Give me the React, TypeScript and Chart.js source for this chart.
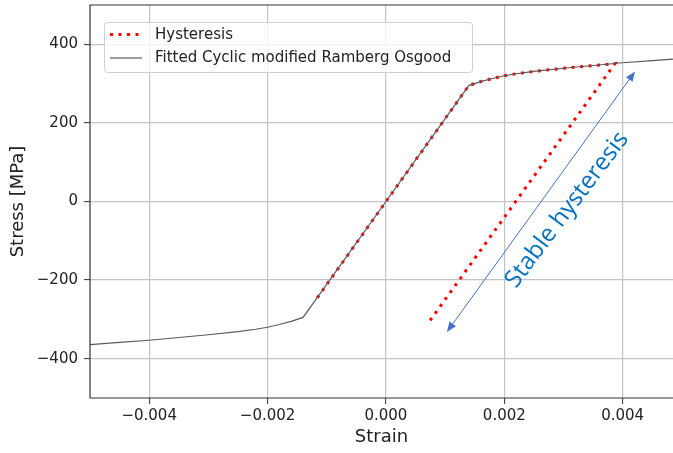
import React, { useEffect, useRef } from "react";
import { Chart, registerables } from "chart.js";

Chart.register(...registerables);

// ---- data ----
const fittedStrain = [
  -0.005, -0.0045, -0.004, -0.0035, -0.003, -0.0025, -0.0022, -0.002, -0.0018, -0.0016, -0.0015, -0.0014,
  0, 0.0014, 0.0015, 0.0016, 0.0018, 0.002, 0.0022, 0.0025, 0.003, 0.0035, 0.004, 0.0045, 0.005,
];
const fittedStress = [
  -364, -358.5, -353, -346, -339, -331, -325, -320, -313, -305, -300, -295,
  0, 295, 300, 305, 313, 320, 325, 331, 339, 346, 353, 358.5, 364,
];

const hysteresisStrain = [-0.00116, 0.0014, 0.0015, 0.0016, 0.0018, 0.002, 0.0022, 0.0025, 0.003, 0.0035, 0.00387, 0.00074];
const hysteresisStress = [-245, 295, 300, 305, 313, 320, 325, 331, 339, 346, 351, -304];

const xTicks = [-0.004, -0.002, 0, 0.002, 0.004];
const xTickLabels = ["\u22120.004", "\u22120.002", "0.000", "0.002", "0.004"];
const yTicks = [-400, -200, 0, 200, 400];
const yTickLabels = ["\u2212400", "\u2212200", "0", "200", "400"];

const legendLabels = ["Hysteresis", "Fitted Cyclic modified Ramberg Osgood"];
const xTitle = "Strain";
const yTitle = "Stress [MPa]";

const annotationText = "Stable hysteresis";
const arrowStart = [0.00103, -332];
const arrowEnd = [0.00421, 331];
const annotationPos = [0.00306, -21];

const FONT = "'DejaVu Sans', sans-serif";
const RED = "#ff0000";
const GRAY = "#5a5a5a";

const overlayPlugin = {
  id: "overlay",
  afterDraw(chart: any) {
    const { ctx, chartArea: ca, scales } = chart;
    const xs = scales.x;
    const ys = scales.y;
    ctx.save();

    // spines
    ctx.strokeStyle = "#333";
    ctx.lineWidth = 1.2;
    ctx.beginPath();
    ctx.moveTo(ca.left, ca.bottom);
    ctx.lineTo(ca.left, ca.top);
    ctx.lineTo(ca.right + 2, ca.top);
    ctx.moveTo(ca.left, ca.bottom);
    ctx.lineTo(ca.right + 2, ca.bottom);
    ctx.stroke();

    // arrow
    const x1 = xs.getPixelForValue(arrowStart[0]);
    const y1 = ys.getPixelForValue(arrowStart[1]);
    const x2 = xs.getPixelForValue(arrowEnd[0]);
    const y2 = ys.getPixelForValue(arrowEnd[1]);
    const ang = Math.atan2(y2 - y1, x2 - x1);
    const hl = 10, hw = 4;
    ctx.strokeStyle = "#4472C4";
    ctx.fillStyle = "#4472C4";
    ctx.lineWidth = 1;
    ctx.beginPath();
    ctx.moveTo(x1 + Math.cos(ang) * hl * 0.8, y1 + Math.sin(ang) * hl * 0.8);
    ctx.lineTo(x2 - Math.cos(ang) * hl * 0.8, y2 - Math.sin(ang) * hl * 0.8);
    ctx.stroke();
    const head = (px: number, py: number, a: number) => {
      ctx.beginPath();
      ctx.moveTo(px, py);
      ctx.lineTo(px - Math.cos(a) * hl - Math.sin(a) * hw, py - Math.sin(a) * hl + Math.cos(a) * hw);
      ctx.lineTo(px - Math.cos(a) * hl + Math.sin(a) * hw, py - Math.sin(a) * hl - Math.cos(a) * hw);
      ctx.closePath();
      ctx.fill();
    };
    head(x2, y2, ang);
    head(x1, y1, ang + Math.PI);

    // annotation text
    const tx = xs.getPixelForValue(annotationPos[0]);
    const ty = ys.getPixelForValue(annotationPos[1]);
    ctx.save();
    ctx.translate(tx, ty);
    ctx.rotate((-53 * Math.PI) / 180);
    ctx.fillStyle = "#0070C0";
    ctx.font = "24px 'Open Sans', sans-serif";
    ctx.textAlign = "center";
    ctx.textBaseline = "middle";
    ctx.fillText(annotationText, 0, 0);
    ctx.restore();

    // legend
    const lx = 104, ly = 22, lw = 368, lh = 50;
    ctx.beginPath();
    ctx.roundRect(lx + 0.5, ly + 0.5, lw, lh, 3);
    ctx.fillStyle = "rgba(255,255,255,0.8)";
    ctx.fill();
    ctx.strokeStyle = "#d0d0d0";
    ctx.lineWidth = 1;
    ctx.stroke();

    ctx.strokeStyle = RED;
    ctx.lineWidth = 3;
    ctx.setLineDash([3, 5.5]);
    ctx.beginPath();
    ctx.moveTo(110, 34.5);
    ctx.lineTo(142, 34.5);
    ctx.stroke();
    ctx.setLineDash([]);
    ctx.strokeStyle = GRAY;
    ctx.lineWidth = 1.2;
    ctx.beginPath();
    ctx.moveTo(110, 58);
    ctx.lineTo(142, 58);
    ctx.stroke();

    ctx.fillStyle = "#222";
    ctx.font = `15px ${FONT}`;
    ctx.textAlign = "left";
    ctx.textBaseline = "middle";
    ctx.fillText(legendLabels[0], 155, 35);
    ctx.fillText(legendLabels[1], 155, 58.5);

    ctx.restore();
  },
};

export default function App() {
  const ref = useRef<HTMLCanvasElement | null>(null);
  useEffect(() => {
    if (!ref.current) return;
    const fitted = fittedStrain.map((x, i) => ({ x, y: fittedStress[i] }));
    const hyst = hysteresisStrain.map((x, i) => ({ x, y: hysteresisStress[i] }));
    const chart = new Chart(ref.current, {
      type: "line",
      data: {
        datasets: [
          {
            label: legendLabels[1],
            data: fitted,
            borderColor: GRAY,
            borderWidth: 1.2,
            pointRadius: 0,
            tension: 0,
            order: 0,
          },
          {
            label: legendLabels[0],
            data: hyst,
            borderColor: RED,
            borderWidth: 3,
            borderDash: [3, 5.5],
            borderCapStyle: "butt",
            pointRadius: 0,
            tension: 0,
            order: 1,
          },
        ],
      },
      plugins: [overlayPlugin],
      options: {
        animation: false,
        responsive: true,
        maintainAspectRatio: false,
        layout: { padding: { top: 5, left: 0, right: 0, bottom: 0 } },
        plugins: { legend: { display: false }, tooltip: { enabled: false } },
        scales: {
          x: {
            type: "linear",
            min: -0.005,
            max: 0.00485,
            afterBuildTicks: (s: any) => {
              s.ticks = xTicks.map((v) => ({ value: v }));
            },
            afterFit: (s: any) => {
              s.height = 55;
              s.paddingLeft = 0;
              s.paddingRight = 0;
            },
            ticks: {
              autoSkip: false,
              maxRotation: 0,
              padding: 3,
              color: "#222",
              font: { family: FONT, size: 15 },
              callback: (v: any) => {
                const i = xTicks.indexOf(v);
                return i >= 0 ? xTickLabels[i] : "";
              },
            },
            grid: { color: "#c4c4c4", lineWidth: 1.2, tickLength: 6, tickColor: "#333", tickWidth: 1 },
            border: { display: false },
            title: {
              display: true,
              text: xTitle,
              color: "#222",
              font: { family: FONT, size: 18 },
              padding: { top: 0, bottom: 5 },
            },
          },
          y: {
            type: "linear",
            min: -500,
            max: 500,
            afterBuildTicks: (s: any) => {
              s.ticks = yTicks.map((v) => ({ value: v }));
            },
            afterFit: (s: any) => {
              s.width = 90;
              s.paddingTop = 0;
              s.paddingBottom = 0;
            },
            ticks: {
              autoSkip: false,
              padding: 6,
              color: "#222",
              font: { family: FONT, size: 15 },
              callback: (v: any) => {
                const i = yTicks.indexOf(v);
                return i >= 0 ? yTickLabels[i] : "";
              },
            },
            grid: { color: "#c4c4c4", lineWidth: 1.2, tickLength: 6, tickColor: "#333", tickWidth: 1 },
            border: { display: false },
            title: {
              display: true,
              text: yTitle,
              color: "#222",
              font: { family: FONT, size: 18 },
              padding: { top: 8, bottom: 0 },
            },
          },
        },
      },
    } as any);
    return () => chart.destroy();
  }, []);
  return (
    <div style={{ position: "absolute", left: 0, top: 0, width: 673, height: 453, background: "#fff" }}>
      <canvas ref={ref} />
    </div>
  );
}
